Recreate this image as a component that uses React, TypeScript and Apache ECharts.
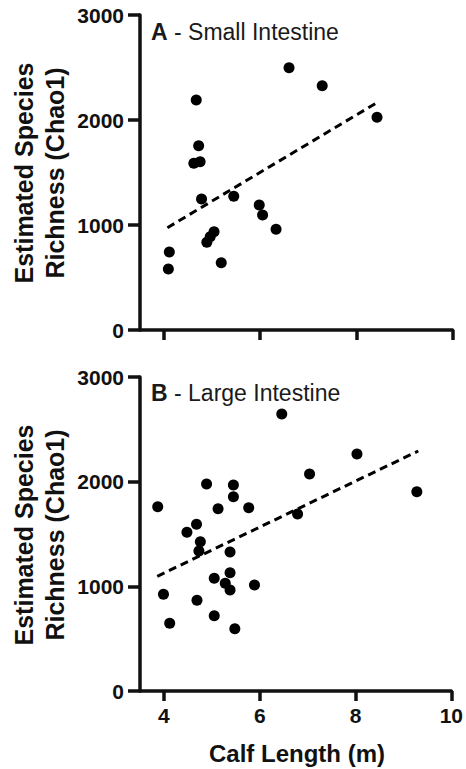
import React, { useEffect, useRef } from "react";
import * as echarts from "echarts";

// Panel A - Small Intestine: [calf length (m), Chao1]
const smallX = [6.60, 7.29, 8.43, 4.67, 4.72, 4.62, 4.75, 4.78, 5.45, 5.98, 6.05, 6.33, 5.04, 4.96, 4.89, 5.19, 4.11, 4.09];
const smallY = [2498, 2327, 2026, 2190, 1755, 1588, 1603, 1248, 1273, 1190, 1095, 959, 936, 889, 835, 641, 743, 581];
const smallTrendX = [4.07, 8.46];
const smallTrendY = [974, 2174];

// Panel B - Large Intestine
const largeX = [6.46, 8.03, 7.04, 9.28, 4.89, 5.45, 5.45, 3.87, 5.13, 5.77, 6.79, 4.68, 4.48, 4.76, 4.73, 5.38, 5.38, 5.05, 5.28, 5.38, 5.89, 3.99, 4.69, 5.05, 4.12, 5.48];
const largeY = [2646, 2264, 2073, 1904, 1978, 1968, 1856, 1761, 1742, 1751, 1691, 1593, 1516, 1426, 1338, 1328, 1130, 1077, 1029, 965, 1013, 924, 867, 719, 647, 595];
const largeTrendX = [3.86, 9.31];
const largeTrendY = [1096, 2293];

const xTicks = [4, 6, 8, 10];
const yTicks = [0, 1000, 2000, 3000];

const panelTitles = [
  { letter: "A", name: " - Small Intestine" },
  { letter: "B", name: " - Large Intestine" },
];
const yName = "Estimated Species\nRichness (Chao1)";
const xName = "Calf Length (m)";

const FONT = "Liberation Sans, Arial, sans-serif";
const INK = "#111";

const zip = (xs: number[], ys: number[]) => xs.map((x, i) => [x, ys[i]]);

export default function App() {
  const ref = useRef<HTMLDivElement>(null);
  useEffect(() => {
    if (!ref.current) return;
    const chart = echarts.init(ref.current, null, { renderer: "svg" });
    const axisLine = { show: true, lineStyle: { color: INK, width: 3.5 } };
    const mkX = (gridIndex: number, showLabels: boolean) => ({
      type: "value",
      gridIndex,
      min: 3.5,
      max: 10,
      axisLine,
      axisTick: { show: true, customValues: xTicks, length: 10, inside: false, lineStyle: { color: INK, width: 3.5 } },
      axisLabel: {
        show: showLabels,
        customValues: xTicks,
        margin: 14,
        fontSize: 21,
        fontWeight: "bold",
        fontFamily: FONT,
        color: INK,
        formatter: (v: number) => String(v),
      },
      splitLine: { show: false },
    });
    const mkY = (gridIndex: number) => ({
      type: "value",
      gridIndex,
      min: 0,
      max: 3000,
      interval: 1000,
      axisLine,
      axisTick: { show: true, customValues: yTicks, length: 12, lineStyle: { color: INK, width: 3.5 } },
      axisLabel: {
        customValues: yTicks,
        margin: 16,
        fontSize: 21,
        fontWeight: "bold",
        fontFamily: FONT,
        color: INK,
        formatter: (v: number) => String(v),
      },
      splitLine: { show: false },
    });
    const scatter = (i: number, xs: number[], ys: number[]) => ({
      type: "scatter",
      xAxisIndex: i,
      yAxisIndex: i,
      data: zip(xs, ys),
      symbol: "circle",
      symbolSize: 11,
      itemStyle: { color: "#000", opacity: 1 },
      z: 3,
    });
    const trend = (i: number, xs: number[], ys: number[]) => ({
      type: "line",
      xAxisIndex: i,
      yAxisIndex: i,
      data: zip(xs, ys),
      symbol: "none",
      lineStyle: { color: "#000", width: 3, type: [8, 5] },
      z: 2,
    });
    const yNameText = (cy: number) => ({
      type: "text",
      x: 39,
      y: cy,
      rotation: Math.PI / 2,
      style: {
        text: yName,
        fontSize: 25,
        fontWeight: "bold",
        fontFamily: FONT,
        fill: "#111",
        align: "center",
        verticalAlign: "middle",
        lineHeight: 31,
      },
    });
    const titleText = (cy: number, t: { letter: string; name: string }) => ({
      type: "text",
      x: 151,
      y: cy,
      style: {
        text: `{b|${t.letter}}{n|${t.name}}`,
        fontFamily: FONT,
        fontSize: 23,
        fill: "#1a1a1a",
        align: "left",
        verticalAlign: "middle",
        rich: {
          b: { fontWeight: "bold", fontSize: 23, fontFamily: FONT, fill: "#1a1a1a" },
          n: { fontWeight: "normal", fontSize: 23, fontFamily: FONT, fill: "#1a1a1a" },
        },
      },
    });
    chart.setOption({
      animation: false,
      grid: [
        { left: 140, top: 15, width: 312.5, height: 315 },
        { left: 140, top: 377, width: 312.5, height: 314 },
      ],
      xAxis: [mkX(0, false), mkX(1, true)],
      yAxis: [mkY(0), mkY(1)],
      series: [
        scatter(0, smallX, smallY),
        trend(0, smallTrendX, smallTrendY),
        scatter(1, largeX, largeY),
        trend(1, largeTrendX, largeTrendY),
      ],
      graphic: [
        yNameText(173),
        yNameText(535),
        titleText(32, panelTitles[0]),
        titleText(393, panelTitles[1]),
        {
          type: "text",
          x: 297,
          y: 753,
          style: {
            text: xName,
            fontSize: 24,
            fontWeight: "bold",
            fontFamily: FONT,
            fill: "#111",
            align: "center",
            verticalAlign: "middle",
          },
        },
      ],
    });
    return () => chart.dispose();
  }, []);
  return (
    <div
      ref={ref}
      style={{ position: "fixed", left: 0, top: 0, width: 466, height: 769, background: "#fff" }}
    />
  );
}
